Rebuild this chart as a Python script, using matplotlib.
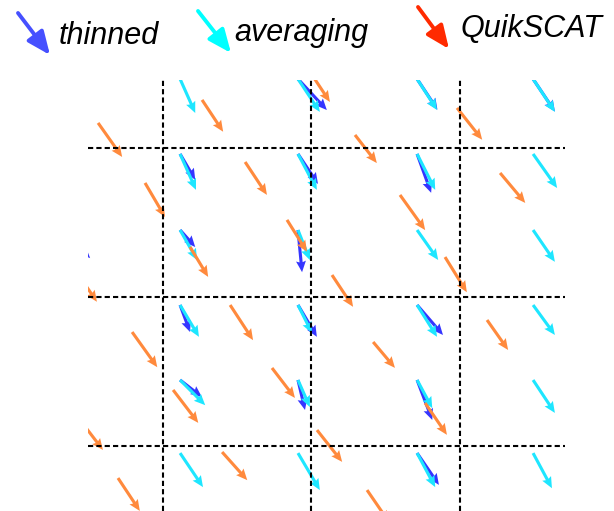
import matplotlib
matplotlib.use('Agg')
import numpy as np
import matplotlib.pyplot as plt

# wind vectors in m/s, positions in degrees lon/lat

# averaging product (regular grid)
grid_lon = [-124.882, -124.088, -123.286, -122.505]
grid_lat = [38.468, 37.963, 37.451, 36.946, 36.441, 35.949]
avg_u = [
	[4.1, 5.9, 5.4, 5.9],
	[4.3, 5.1, 4.9, 6.5],
	[4.6, 3.2, 5.7, 5.9],
	[5.1, 3.8, 5.4, 5.9],
	[6.8, 3.2, 4.1, 5.9],
	[6.2, 5.9, 4.9, 5.1],
]
avg_v = [
	[-9.2, -8.9, -8.4, -8.9],
	[-9.7, -9.7, -9.7, -9.2],
	[-8.1, -8.1, -8.1, -8.6],
	[-8.6, -7.6, -8.6, -8.1],
	[-6.8, -7.3, -7.6, -8.9],
	[-9.2, -10.0, -9.2, -9.5],
]

# thinned product (subset of grid points)
thin_lon = [-124.088, -123.286, -122.505, -124.882, -124.088, -123.286,
			-124.882, -124.088, -124.882, -124.088, -123.286, -124.882,
			-124.088, -123.286, -123.286, -125.677]
thin_lat = [38.468, 38.468, 38.468, 37.963, 37.963, 37.963,
			37.451, 37.451, 36.946, 36.946, 36.946, 36.441,
			36.441, 36.441, 35.949, 37.451]
thin_u = [7.8, 5.5, 5.9, 4.1, 5.4, 3.8, 4.1, 1.1, 2.7, 5.1, 7.0, 5.9, 1.9, 4.1, 5.9, 7.6]
thin_v = [-8.4, -8.3, -8.8, -7.0, -8.1, -10.5, -4.6, -11.4, -7.3, -8.6, -8.1, -4.6, -8.1, -10.8, -8.6, -7.6]

# QuikSCAT swath observations
qs_lon = [-125.434, -124.734, -124.020, -125.118, -124.444, -123.704, -123.017,
		  -124.815, -124.162, -123.401, -122.727, -125.589, -124.545, -123.859,
		  -123.098, -125.205, -124.263, -123.582, -122.815, -124.929, -123.232,
		  -125.556, -123.960, -124.599, -125.300, -123.623]
qs_lat = [38.172, 38.327, 38.535, 37.768, 37.909, 38.091, 38.273,
		  37.337, 37.519, 37.687, 37.835, 37.182, 36.946, 37.148,
		  37.269, 36.764, 36.522, 36.697, 36.845, 36.374, 36.286,
		  36.172, 36.104, 35.956, 35.781, 35.700]
qs_u = [6.5, 5.7, 5.9, 5.4, 5.9, 5.9, 6.8, 4.9, 5.4, 6.8, 6.8, 5.9, 6.2, 5.7,
		5.9, 6.8, 6.2, 5.9, 5.7, 6.8, 5.9, 6.2, 6.8, 6.8, 5.9, 5.9]
qs_v = [-9.2, -8.6, -8.9, -9.2, -8.9, -7.6, -8.6, -8.1, -8.6, -9.5, -8.1, -8.6, -9.5, -8.6,
		-9.5, -9.5, -8.1, -7.0, -8.1, -8.9, -8.6, -8.1, -8.6, -7.6, -8.9, -8.6]

grid_lines_lon = [-125, -124, -123]
grid_lines_lat = [36, 37, 38]

labels = ['thinned', 'averaging', 'QuikSCAT']


def main():
	fig = plt.figure(figsize=(6.14, 5.11), dpi=100)
	ax = fig.add_axes([88 / 614, 0, 477 / 614, 431 / 511])
	ax.set_xlim(-125.502, -122.290)
	ax.set_ylim(35.559, 38.461)
	ax.axis('off')

	# 1 m/s -> 3.7 px, 148.5 px per degree
	scale = 148.5 / 3.7
	kw = dict(angles='xy', scale_units='xy', scale=scale, width=0.0065,
			  headwidth=3.2, headlength=3.6, headaxislength=3.2)

	ax.quiver(thin_lon, thin_lat, thin_u, thin_v, color='#3535ff', **kw)
	lon2d, lat2d = np.meshgrid(grid_lon, grid_lat)
	ax.quiver(lon2d, lat2d, avg_u, avg_v, color='#1ee6ff', **kw)
	ax.quiver(qs_lon, qs_lat, qs_u, qs_v, color='#ff8a3d', **kw)

	for lon in grid_lines_lon:
		ax.axvline(lon, color='black', lw=1.5, ls=(0, (2.5, 1.5)))
	for lat in grid_lines_lat:
		ax.axhline(lat, color='black', lw=1.5, ls=(0, (2.5, 1.5)))

	# legend drawn at top of figure
	leg_arrows = [((18, 498), (50, 456), '#4650ff'),
				  ((198, 500), (231, 458), '#00ffff'),
				  ((418, 504), (449, 462), '#ff2a00')]
	for (tail, tip, c) in leg_arrows:
		fig.add_artist(matplotlib.patches.FancyArrowPatch(
			tail, tip, transform=None, arrowstyle='-|>,head_width=0.3,head_length=0.7',
			mutation_scale=20, lw=2.8, color=c, shrinkA=0, shrinkB=0))
	text_pos = [(59, 467), (234, 470), (460, 474)]
	for (x, y), lab in zip(text_pos, labels):
		fig.text(x / 614, y / 511, lab, fontsize=22, style='italic',
				 family='Liberation Sans', ha='left', va='baseline')

	fig.savefig('out.png', dpi=100)

main()
